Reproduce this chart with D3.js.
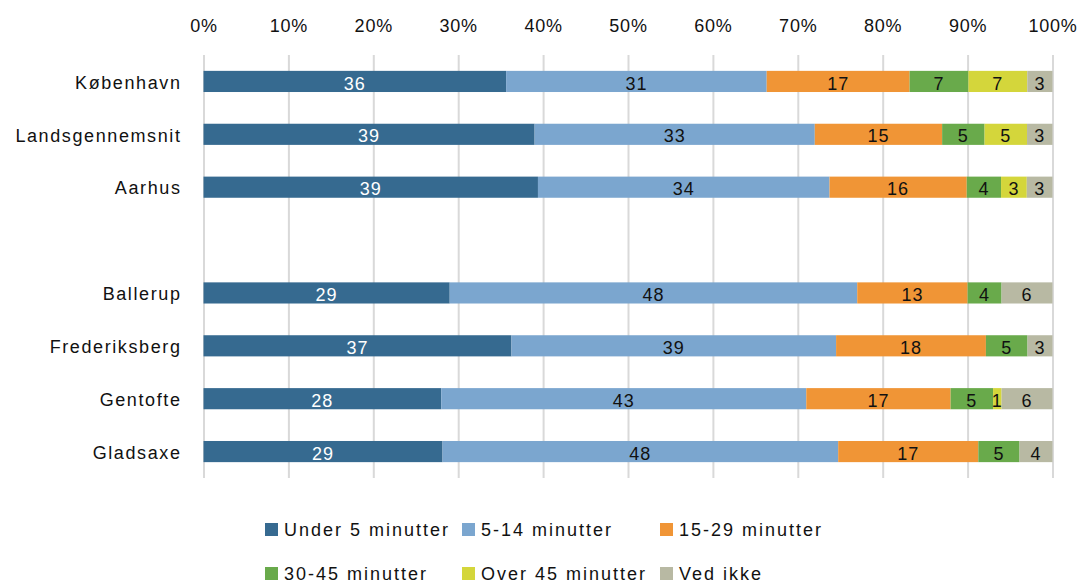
<!DOCTYPE html>
<html>
<head>
<meta charset="utf-8">
<script src="https://cdn.jsdelivr.net/npm/d3@7"></script>
<style>
  html, body { margin: 0; padding: 0; background: #fff; }
  svg { display: block; font-family: "Liberation Sans", Arial, sans-serif; }
</style>
</head>
<body>
<svg id="chart" width="1083" height="582"></svg>
<script>
// ---- data ----
const groupA = ["København", "Landsgennemsnit", "Aarhus"];
const groupB = ["Ballerup", "Frederiksberg", "Gentofte", "Gladsaxe"];
const categories = groupA.concat(groupB);
const seriesNames = ["Under 5 minutter", "5-14 minutter", "15-29 minutter", "30-45 minutter", "Over 45 minutter", "Ved ikke"];
const under5  = [36, 39, 39, 29, 37, 28, 29];
const min5_14 = [31, 33, 34, 48, 39, 43, 48];
const min15_29 = [17, 15, 16, 13, 18, 17, 17];
const min30_45 = [7, 5, 4, 4, 5, 5, 5];
const over45  = [7, 5, 3, 0, 0, 1, 0];
const vedIkke = [3, 3, 3, 6, 3, 6, 4];
const xTicks = [0, 0.1, 0.2, 0.3, 0.4, 0.5, 0.6, 0.7, 0.8, 0.9, 1];
const colors = ["#366a90", "#7ba6cf", "#f09536", "#69aa4b", "#d4d63b", "#b8b9a3"];

(function () {
// ---- build table ----
const seriesValues = [under5, min5_14, min15_29, min30_45, over45, vedIkke];
const table = categories.map((c, i) => {
  const row = { cat: c };
  seriesNames.forEach((s, j) => row[s] = seriesValues[j][i]);
  return row;
});
const GAP = "\u0000gap";
const slots = groupA.concat([GAP], groupB);

const svg = d3.select("#chart");
const plotTop = 55, plotBottom = 478, plotLeft = 203.5, plotRight = 1052.5;

const x = d3.scaleLinear().domain([0, 1]).range([plotLeft, plotRight]);
const y = d3.scaleBand().domain(slots).range([plotTop, plotBottom]).paddingInner(0.6).paddingOuter(0.3);

// grid + top axis
const gx = svg.append("g").attr("transform", `translate(0,${plotTop})`)
  .call(d3.axisTop(x).tickValues(xTicks).tickFormat(d3.format(".0%"))
    .tickSizeInner(-(plotBottom - plotTop)).tickSizeOuter(0).tickPadding(23.5));
gx.select(".domain").remove();
gx.selectAll(".tick line").attr("stroke", "#d9d9d9").attr("stroke-width", 2);
gx.selectAll(".tick text").attr("fill", "#111").attr("font-size", 18)
  .attr("font-family", "'Liberation Sans', Arial, sans-serif")
  .style("letter-spacing", "0.8px");

// left axis
const gy = svg.append("g").attr("transform", `translate(${plotLeft},0)`)
  .call(d3.axisLeft(y).tickSize(0).tickPadding(22).tickFormat(d => d === GAP ? "" : d));
gy.select(".domain").remove();
gy.selectAll(".tick text").attr("fill", "#111").attr("font-size", 18)
  .attr("font-family", "'Liberation Sans', Arial, sans-serif")
  .attr("dy", "0.4em")
  .style("letter-spacing", "1.6px");

// stacked bars
const stack = d3.stack().keys(seriesNames).offset(d3.stackOffsetExpand);
const stacked = stack(table);

const layers = svg.append("g").selectAll("g").data(stacked).join("g")
  .attr("fill", (d, i) => colors[i]);

layers.selectAll("rect").data(d => d).join("rect")
  .attr("x", d => x(d[0]))
  .attr("y", d => y(d.data.cat))
  .attr("width", d => Math.max(0, x(d[1]) - x(d[0])))
  .attr("height", y.bandwidth());

// value labels
const labels = svg.append("g");
stacked.forEach((layer, i) => {
  labels.selectAll(null).data(layer.filter(d => d.data[layer.key] > 0)).join("text")
    .attr("x", d => (x(d[0]) + x(d[1])) / 2)
    .attr("y", d => y(d.data.cat) + y.bandwidth() / 2)
    .attr("dy", "0.45em")
    .attr("text-anchor", "middle")
    .attr("font-size", 18)
    .style("letter-spacing", "1px")
    .attr("fill", i === 0 ? "#ffffff" : "#111")
    .text(d => d.data[layer.key]);
});

// legend
const legendTextX = [284, 481, 679];
const legendRowY = [529.5, 573.5];
const legend = svg.append("g");
seriesNames.forEach((s, i) => {
  const col = i % 3, row = Math.floor(i / 3);
  const tx = legendTextX[col], cy = legendRowY[row];
  legend.append("rect")
    .attr("x", tx - 19).attr("y", cy - 6.5)
    .attr("width", 13).attr("height", 13)
    .attr("fill", colors[i]);
  legend.append("text")
    .attr("x", tx).attr("y", cy).attr("dy", "0.36em")
    .attr("font-size", 18).attr("fill", "#111")
    .style("letter-spacing", "2px")
    .text(s);
});
})();
</script>
</body>
</html>
